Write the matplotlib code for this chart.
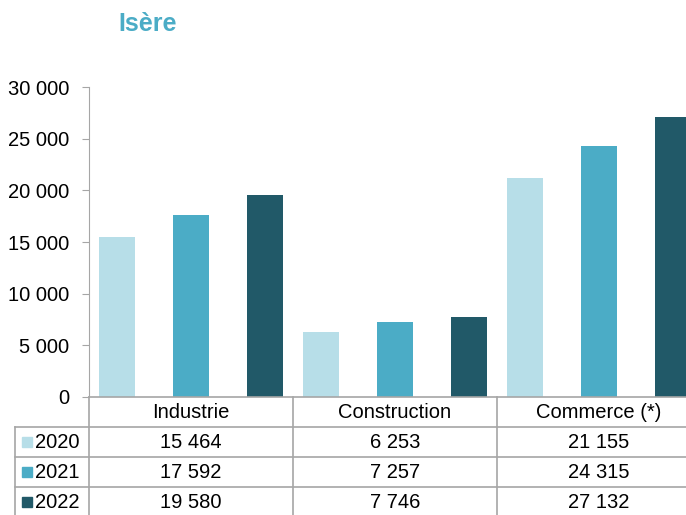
import matplotlib.pyplot as plt
import numpy as np

# Données Isère
categories = ['Industrie', 'Construction', 'Commerce (*)']
years = ['2020', '2021', '2022']
v2020 = [15464, 6253, 21155]
v2021 = [17592, 7257, 24315]
v2022 = [19580, 7746, 27132]
labels_2020 = ['15 464', '6 253', '21 155']
labels_2021 = ['17 592', '7 257', '24 315']
labels_2022 = ['19 580', '7 746', '27 132']
yticks = [0, 5000, 10000, 15000, 20000, 25000, 30000]
ytick_labels = ['0', '5 000', '10 000', '15 000', '20 000', '25 000', '30 000']

colors = ['#b7dee8', '#4bacc6', '#215968']
grid_color = '#a6a6a6'

plt.rcParams['font.family'] = ['Liberation Sans', 'DejaVu Sans']

W, H = 686, 515
fig = plt.figure(figsize=(W / 100, H / 100), dpi=100)

# main axes in pixel layout
left, right, top, bottom = 89, 701, 87, 397
ax = fig.add_axes([left / W, (H - bottom) / H, (right - left) / W, (bottom - top) / H])

x = np.arange(len(categories))
offset = 0.363
width = 0.18
series = [v2020, v2021, v2022]
for i, vals in enumerate(series):
    ax.bar(x + (i - 1) * offset, vals, width=width, color=colors[i], zorder=2)

ax.set_xlim(-0.5, len(categories) - 0.5)
ax.set_ylim(0, 30000)
ax.set_yticks(yticks)
ax.set_yticklabels(ytick_labels, fontsize=14.5)
ax.set_xticks([])
for s in ['top', 'right', 'bottom']:
    ax.spines[s].set_visible(False)
ax.spines['left'].set_color(grid_color)
ax.tick_params(axis='y', length=5, color=grid_color, pad=9)

# overlay axes for title + data table (pixel coordinates)
ov = fig.add_axes([0, 0, 1, 1], facecolor='none')
ov.set_xlim(0, W)
ov.set_ylim(H, 0)
ov.axis('off')

ov.text(148, 24, 'Isère', color='#4bacc6', fontsize=18, fontweight='bold',
        ha='center', va='center')

# column boundaries from the data axes
def to_px(xd):
    disp = ax.transData.transform((xd, 0))
    return disp[0] * W / fig.bbox.width

bounds = [to_px(b) for b in np.arange(-0.5, len(categories) + 0.5, 1)]
centers = [to_px(c) for c in x]

row_h = 30
label_left = 15
rows_top = bottom + row_h

# horizontal lines
ov.plot([bounds[0], W + 20], [bottom, bottom], color=grid_color, lw=1.2)
for r in range(len(years) + 1):
    yy = rows_top + r * row_h
    ov.plot([label_left, W + 20], [yy, yy], color=grid_color, lw=1.2)
# vertical lines
for b in bounds:
    ov.plot([b, b], [bottom, H + 10], color=grid_color, lw=1.2)
ov.plot([label_left, label_left], [rows_top, H + 10], color=grid_color, lw=1.2)

# header
for c, name in zip(centers, categories):
    ov.text(c, bottom + row_h / 2, name, fontsize=14.5, ha='center', va='center')

# data rows
row_labels = [labels_2020, labels_2021, labels_2022]
for r, (yr, labs) in enumerate(zip(years, row_labels)):
    yc = rows_top + r * row_h + row_h / 2
    ov.plot(27, yc, marker='s', markersize=7.5, color=colors[r], linestyle='none')
    ov.text(35, yc, yr, fontsize=14.5, ha='left', va='center')
    for c, lab in zip(centers, labs):
        ov.text(c, yc, lab, fontsize=14.5, ha='center', va='center')

fig.savefig('out.png', dpi=100)
